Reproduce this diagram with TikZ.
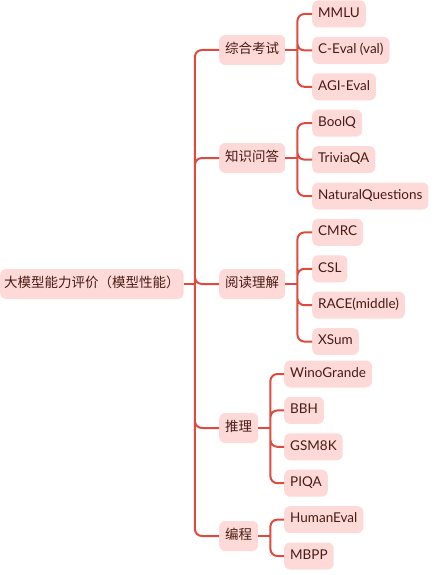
\documentclass[tikz,border=0pt]{standalone}
\usepackage{fontspec}
\setmainfont{Lato}
\newfontfamily\cjk{Noto Sans CJK SC}
\usetikzlibrary{positioning}
\definecolor{branch}{HTML}{DE4A3E}
\definecolor{chip}{HTML}{FDDAD7}
\definecolor{ink}{HTML}{4A1A14}
\tikzset{topic/.style={rectangle,fill=chip,rounded corners=6pt,text=ink,font=\fontsize{13.5}{15}\selectfont\cjk,inner xsep=6pt,minimum height=30pt,text height=10pt,text depth=2.5pt,anchor=west},leaf/.style={rectangle,fill=chip,rounded corners=6pt,text=ink,font=\fontsize{13.5}{15}\selectfont,inner xsep=6pt,minimum height=27pt,text height=9.5pt,text depth=3pt,anchor=west},next/.style={below=9pt of #1.south west,anchor=north west},link/.style={draw=branch,line width=2pt,rounded corners=7pt}}
\begin{document}
\begin{tikzpicture}[x=1pt,y=-1pt]
\useasboundingbox (0,0) rectangle (440,575);
\node[topic,inner xsep=4pt] (root) at (0,284) {大模型能力评价（模型性能）};
\node[topic] (exam) at (219,50) {综合考试};
\node[topic] (know) at (219,158) {知识问答};
\node[topic] (read) at (219,284) {阅读理解};
\node[topic] (reason) at (219,428) {推理};
\node[topic] (code) at (219,536) {编程};
% benchmarks
\node[leaf] (mmlu) at (312,14) {MMLU};
\node[leaf, next=mmlu] (ceval) {C-Eval (val)};
\node[leaf, next=ceval] (agi) {AGI-Eval};
\node[leaf, next=agi] (boolq) {BoolQ};
\node[leaf, next=boolq] (trivia) {TriviaQA};
\node[leaf, next=trivia] (nq) {NaturalQuestions};
\node[leaf, next=nq] (cmrc) {CMRC};
\node[leaf, next=cmrc] (csl) {CSL};
\node[leaf, next=csl] (race) {RACE(middle)};
\node[leaf, next=race] (xsum) {XSum};
\node[leaf] (wino) at (284,374) {WinoGrande};
\node[leaf, next=wino] (bbh) {BBH};
\node[leaf, next=bbh] (gsm) {GSM8K};
\node[leaf, next=gsm] (piqa) {PIQA};
\node[leaf, next=piqa] (human) {HumanEval};
\node[leaf, next=human] (mbpp) {MBPP};
% branches
\draw[link] (root.east) -- ++(11,0) coordinate (trunk);
\draw[link] (trunk) |- (exam.west) (trunk) |- (know.west) (trunk) |- (read.west) (trunk) |- (reason.west) (trunk) |- (code.west);
\draw[link] (exam.east) -- ++(12,0) coordinate (j1);
\draw[link] (j1) |- (mmlu.west) (j1) |- (ceval.west) (j1) |- (agi.west);
\draw[link] (know.east) -- ++(12,0) coordinate (j2);
\draw[link] (j2) |- (boolq.west) (j2) |- (trivia.west) (j2) |- (nq.west);
\draw[link] (read.east) -- ++(12,0) coordinate (j3);
\draw[link] (j3) |- (cmrc.west) (j3) |- (csl.west) (j3) |- (race.west) (j3) |- (xsum.west);
\draw[link] (reason.east) -- ++(12,0) coordinate (j4);
\draw[link] (j4) |- (wino.west) (j4) |- (bbh.west) (j4) |- (gsm.west) (j4) |- (piqa.west);
\draw[link] (code.east) -- ++(12,0) coordinate (j5);
\draw[link] (j5) |- (human.west) (j5) |- (mbpp.west);
\end{tikzpicture}
\end{document}
